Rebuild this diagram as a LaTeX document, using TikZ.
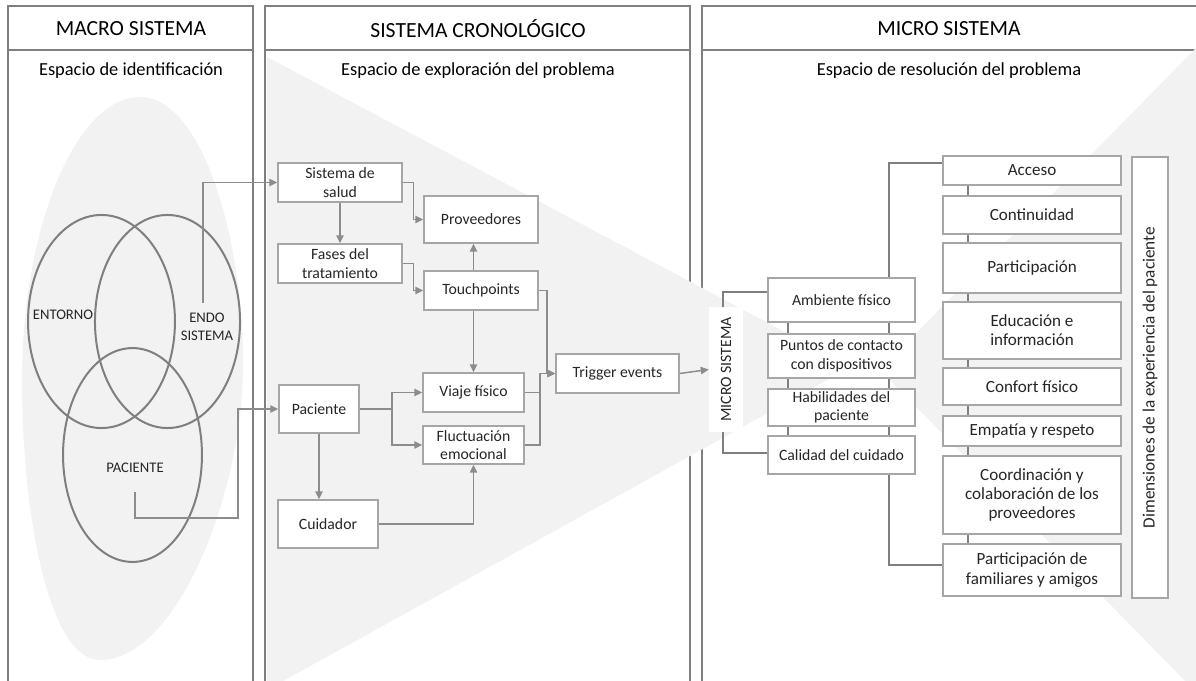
\documentclass[tikz,border=0pt]{standalone}
\usepackage{fontspec}
\setmainfont{Carlito}
\usetikzlibrary{arrows.meta}
\definecolor{framegray}{HTML}{7F7F7F}
\definecolor{halo}{HTML}{F2F2F2}
\definecolor{boxline}{HTML}{A6A6A6}
\definecolor{wire}{HTML}{8C8C8C}
\definecolor{ink}{HTML}{262626}
\pgfdeclarelayer{back}
\pgfdeclarelayer{wires}
\pgfsetlayers{back,wires,main}
\begin{document}
\begin{tikzpicture}[x=0.75pt,y=-0.75pt,
  hdr/.style={font=\fontsize{16.2}{19}\selectfont, text=black, inner sep=0pt},
  sub/.style={font=\fontsize{13.8}{16}\selectfont, text=black, inner sep=0pt},
  lbl/.style={font=\fontsize{11.8}{13.8}\selectfont, text=ink, inner sep=0pt, align=center},
  vlbl/.style={font=\fontsize{11}{13.5}\selectfont, text=ink, inner sep=0pt, align=center},
  sz/.style 2 args={minimum width=#1*0.75pt, minimum height=#2*0.75pt},
  bx/.style={draw=boxline, line width=1pt, fill=white, inner sep=1pt, align=center,
             font=\fontsize{11.8}{13.8}\selectfont, text=ink},
  dimbx/.style={bx, font=\fontsize{12.8}{14.4}\selectfont},
  frame/.style={draw=framegray, line width=1.5pt},
  venn/.style={draw=framegray, line width=1.5pt},
  ln/.style={draw=wire, line width=1.1pt},
  arr/.style={draw=wire, line width=1.1pt, -{Triangle[length=6pt,width=5.5pt]}},
  dline/.style={draw=framegray, line width=1.5pt}]

\useasboundingbox (0,0) rectangle (1196,681);
\clip (0,0) rectangle (1196,681);

% ---------- backgrounds and panels ----------
\begin{pgfonlayer}{back}
  % soft halo behind the Venn diagram
  \fill[halo] (140,97) .. controls (205,97) and (245,250) .. (243,370)
     .. controls (241,500) and (175,660) .. (100,660)
     .. controls (50,660) and (22,520) .. (22,380)
     .. controls (22,230) and (75,97) .. (140,97);
  % panel frames
  \draw[frame] (8,6) rectangle (253,700);
  \draw[frame] (8,50) -- (253,50);
  \draw[frame] (265,6) rectangle (690,700);
  \draw[frame] (265,50) -- (690,50);
  \draw[frame] (702,6) rectangle (1220,700);
  \draw[frame] (702,50) -- (1220,50);
  % funnel towards the micro system
  \fill[halo] (267,57) -- (851,367) -- (267,690) -- cycle;
  % wedge of the patient-experience dimensions
  \fill[halo] (1196,48) -- (880,370) -- (1196,692) -- cycle;
  % Venn diagram
  \draw[venn] (101.5,321.5) ellipse [x radius=55.1pt, y radius=79.9pt];
  \draw[venn] (167.5,321.5) ellipse [x radius=54.4pt, y radius=79.9pt];
  \draw[venn] (132.5,455) ellipse [x radius=52.1pt, y radius=80.2pt];
\end{pgfonlayer}

% ---------- headings ----------
\node[hdr] (h1) at (131,29) {MACRO SISTEMA};
\node[hdr] (h2) at (478,29) {SISTEMA CRONOLÓGICO};
\node[hdr] (h3) at (949,29) {MICRO SISTEMA};
\node[sub] (s1) at (131,71) {Espacio de identificación};
\node[sub] (s2) at (478,71) {Espacio de exploración del problema};
\node[sub] (s3) at (949,71) {Espacio de resolución del problema};

% ---------- Venn labels ----------
\node[vlbl] (entorno) at (63,315) {ENTORNO};
\node[vlbl] (endo) at (207,327) {ENDO\\SISTEMA};
\node[vlbl] (pacv) at (135,468) {PACIENTE};
\coordinate (endoout) at (203,303);
\coordinate (pacout) at (135,492);
\coordinate (vturn) at (238,518);

% ---------- chronological system ----------
\node[bx, sz={124}{39}] (salud) at (340,182.5) {Sistema de\\salud};
\node[bx, sz={114}{47}] (prov) at (481,219.5) {Proveedores};
\node[bx, sz={124}{39}] (fases) at (340,263.5) {Fases del\\tratamiento};
\node[bx, sz={114}{39}] (touch) at (481,290.5) {Touchpoints};
\node[bx, sz={101}{39}] (viaje) at (473.5,392.5) {Viaje físico};
\node[bx, sz={123}{39}] (trig) at (617.5,373.5) {Trigger events};
\node[bx, sz={80}{48}] (pac) at (319,409) {Paciente};
\node[bx, sz={101}{38}] (fluct) at (473.5,445) {Fluctuación\\emocional};
\node[bx, sz={100}{48}] (cuid) at (328,524) {Cuidador};
\coordinate (pj) at (392,409);
\coordinate (jn) at (540,373.5);
\coordinate (jt) at (547,373.5);

% ---------- micro system ----------
\node[fill=white, inner sep=0pt, sz={34}{125}] (micro) at (726,369.5) {};
\node[lbl, rotate=90] (microtxt) at (micro) {MICRO SISTEMA};
\node[bx, sz={147}{44}] (amb) at (841.5,300) {Ambiente físico};
\node[bx, sz={147}{44}] (pun) at (841.5,356) {Puntos de contacto\\con dispositivos};
\node[bx, sz={147}{37}] (hab) at (841.5,407.5) {Habilidades del\\paciente};
\node[bx, sz={147}{38}] (cal) at (841.5,455) {Calidad del cuidado};
\coordinate (mtop) at (723,292);
\coordinate (mbot) at (723,453);
\coordinate (lx) at (788,0);
\coordinate (sp1) at (889,163);
\coordinate (sp2) at (889,565);
\coordinate (rx) at (968,0);

\node[dimbx, sz={178}{29}] (acc) at (1032,170.5) {Acceso};
\node[dimbx, sz={178}{38}] (cont) at (1032,215) {Continuidad};
\node[dimbx, sz={178}{50}] (part) at (1032,268) {Participación};
\node[dimbx, sz={178}{57}] (edu) at (1032,330.5) {Educación e\\información};
\node[dimbx, sz={178}{37}] (conf) at (1032,386.5) {Confort físico};
\node[dimbx, sz={178}{30}] (emp) at (1032,431) {Empatía y respeto};
\node[dimbx, sz={178}{78}] (coord) at (1032,495) {Coordinación y\\colaboración de los\\proveedores};
\node[dimbx, sz={178}{52}] (fam) at (1032,570) {Participación de\\familiares y amigos};
\node[bx, sz={36}{441}] (dim) at (1150,377.5) {};
\node[lbl, rotate=90, font=\fontsize{12.9}{15}\selectfont] (dimtxt) at (dim) {Dimensiones de la experiencia del paciente};

% ---------- connectors ----------
\begin{pgfonlayer}{wires}
  \draw[arr] (endoout) |- (salud.west);
  \draw[arr] (pacout) |- (vturn) |- (pac.west);

  \draw[arr] (salud.south) -- (fases.north);
  \draw[arr] (salud.east) -- ++(11,0) |- (prov.west);
  \draw[arr] (fases.east) -- ++(11,0) |- (touch.west);
  \draw[arr] (touch.north -| viaje.north) -- (prov.south -| viaje.north);
  \draw[arr] (touch.south -| viaje.north) -- (viaje.north);
  \draw[arr] (touch.east) -| (jt) -- (trig.west);
  \draw[ln] (viaje.east) -- (viaje.east -| jn);
  \draw[arr] (fluct.east) -| (jn) -- (trig.west);
  \draw[ln] (pac.east) -- (pj);
  \draw[arr] (pj) |- (viaje.west);
  \draw[arr] (pj) |- (fluct.west);
  \draw[arr] (pac.south) -- (pac.south |- cuid.north);
  \draw[arr] (cuid.east) -| (fluct.south);
  \draw[arr] (trig.east) -- (micro.west);

  \draw[dline] (micro.north -| mtop) -- (mtop) -- (mtop -| amb.west);
  \draw[dline] (micro.south -| mbot) -- (mbot) -- (mbot -| cal.west);
  \draw[dline] (lx |- amb.south) -- (lx |- cal.north);
  \draw[dline] (sp1 -| acc.west) -- (sp1) -- (sp2) -- (sp2 -| fam.west);
  \draw[dline] (rx |- acc.south) -- (rx |- fam.north);
\end{pgfonlayer}
\end{tikzpicture}
\end{document}
